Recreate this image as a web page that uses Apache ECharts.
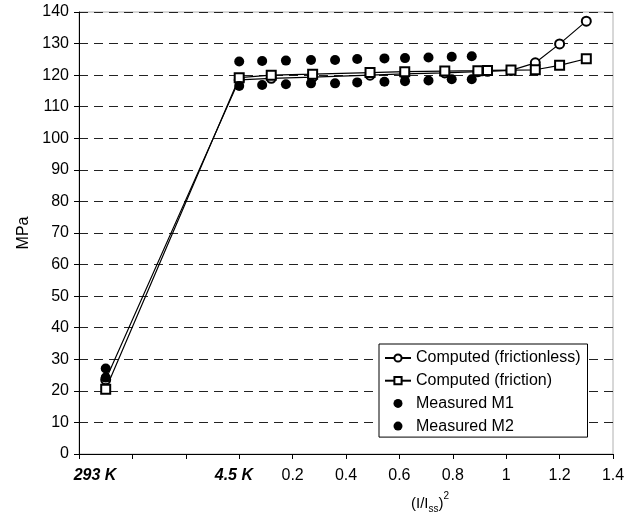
<!DOCTYPE html>
<html>
<head>
<meta charset="utf-8">
<script src="https://cdn.jsdelivr.net/npm/echarts@6/dist/echarts.min.js"></script>
<style>
  html, body { margin: 0; padding: 0; background: #fff; }
  #chart { width: 636px; height: 520px; }
</style>
</head>
<body>
<div id="chart"></div>
<script>
// x positions: -0.5 stands for the 293 K point, 0 for 4.5 K, then (I/Iss)^2
const xComputed = [-0.5, 0, 0.12, 0.275, 0.49, 0.62, 0.77, 0.894, 0.93, 1.018, 1.109, 1.2, 1.3];
const frictionless = [23.5, 118.5, 119.0, 119.4, 120.0, 120.4, 120.7, 121.1, 121.2, 121.5, 123.9, 129.9, 137.1];
const friction = [20.5, 119.2, 120.0, 120.3, 120.8, 121.1, 121.3, 121.4, 121.5, 121.6, 121.7, 123.1, 125.2];

const xMeasured = [-0.5, 0, 0.086, 0.175, 0.269, 0.359, 0.442, 0.544, 0.621, 0.709, 0.796, 0.871];
const measuredM1 = [27.1, 124.3, 124.5, 124.6, 124.8, 124.8, 125.1, 125.3, 125.4, 125.6, 125.8, 126.0];
const measuredM2 = [24.2, 116.6, 116.9, 117.1, 117.4, 117.4, 117.7, 117.9, 118.1, 118.3, 118.7, 118.7];

// where the x labels sit, and what they say
const xLabelValues = [-0.54, -0.02, 0.2, 0.4, 0.6, 0.8, 1.0, 1.2, 1.4];

function pairs(xs, ys) {
    return xs.map((x, i) => [x, ys[i]]);
}

const font = 'Liberation Sans, Arial, sans-serif';
const chart = echarts.init(document.getElementById('chart'));

chart.setOption({
    animation: false,
    textStyle: {fontFamily: font, color: '#000'},
    grid: {
        left: 79, right: 23, top: 12, bottom: 66,
        show: true, borderColor: '#b0b0b0', borderWidth: 1
    },
    legend: {
        orient: 'vertical',
        left: 379, top: 344,
        padding: [6, 7, 3, 5],
        itemWidth: 26, itemHeight: 9, itemGap: 6.7,
        backgroundColor: '#fff',
        borderColor: '#000', borderWidth: 1,
        textStyle: {fontSize: 16, fontFamily: font, color: '#000', lineHeight: 16},
        data: ['Computed (frictionless)', 'Computed (friction)', 'Measured M1', 'Measured M2']
    },
    xAxis: {
        type: 'value',
        min: -0.6, max: 1.4, interval: 0.2,
        axisLine: {onZero: false, lineStyle: {color: '#000', width: 1}},
        axisTick: {show: true, length: 5, lineStyle: {color: '#000'}},
        splitLine: {show: false},
        axisLabel: {
            customValues: xLabelValues,
            margin: 14,
            fontSize: 16,
            color: '#000',
            formatter: function (v) {
                if (v < -0.3) return '{k|293 K}';
                if (v < 0.1) return '{k|4.5 K}';
                return String(+v.toFixed(1));
            },
            rich: {
                k: {fontSize: 16, fontWeight: 'bold', fontStyle: 'italic', fontFamily: font, color: '#000'}
            }
        },
        name: '{a|(I/I}{sub|ss}{a|)}{sup|2}',
        nameLocation: 'middle',
        nameGap: 34,
        nameTextStyle: {
            padding: [0, 0, 0, 168],
            rich: {
                a: {fontSize: 15, fontFamily: font, color: '#000', lineHeight: 22, verticalAlign: 'bottom'},
                sub: {fontSize: 10, fontFamily: font, color: '#000', lineHeight: 22, verticalAlign: 'bottom', padding: [0, 0, -3, 0]},
                sup: {fontSize: 10, fontFamily: font, color: '#000', lineHeight: 22, verticalAlign: 'top', padding: [2, 0, 0, 0]}
            }
        }
    },
    yAxis: {
        type: 'value',
        min: 0, max: 140, interval: 10,
        axisLine: {show: true, onZero: false, lineStyle: {color: '#000', width: 1}},
        axisTick: {show: true, length: 5, lineStyle: {color: '#000'}},
        axisLabel: {fontSize: 16, color: '#000', margin: 10},
        splitLine: {show: true, lineStyle: {color: '#222', type: [9, 6], width: 1}},
        name: 'MPa',
        nameLocation: 'middle',
        nameRotate: 90,
        nameGap: 46,
        nameTextStyle: {fontSize: 16, color: '#000'}
    },
    series: [
        {
            name: 'Computed (frictionless)',
            type: 'line',
            data: pairs(xComputed, frictionless),
            symbol: 'emptyCircle', symbolSize: 9,
            lineStyle: {color: '#000', width: 1.2},
            itemStyle: {color: '#000', borderColor: '#000', borderWidth: 1}
        },
        {
            name: 'Computed (friction)',
            type: 'line',
            data: pairs(xComputed, friction),
            symbol: 'emptyRect', symbolSize: 9,
            lineStyle: {color: '#000', width: 1.2},
            itemStyle: {color: '#000', borderColor: '#000', borderWidth: 1}
        },
        {
            name: 'Measured M1',
            type: 'scatter',
            z: 5,
            data: pairs(xMeasured, measuredM1),
            symbol: 'circle', symbolSize: 10,
            itemStyle: {color: '#000', opacity: 1}
        },
        {
            name: 'Measured M2',
            type: 'scatter',
            z: 5,
            data: pairs(xMeasured, measuredM2),
            symbol: 'circle', symbolSize: 10,
            itemStyle: {color: '#000', opacity: 1}
        }
    ]
});
</script>
</body>
</html>
